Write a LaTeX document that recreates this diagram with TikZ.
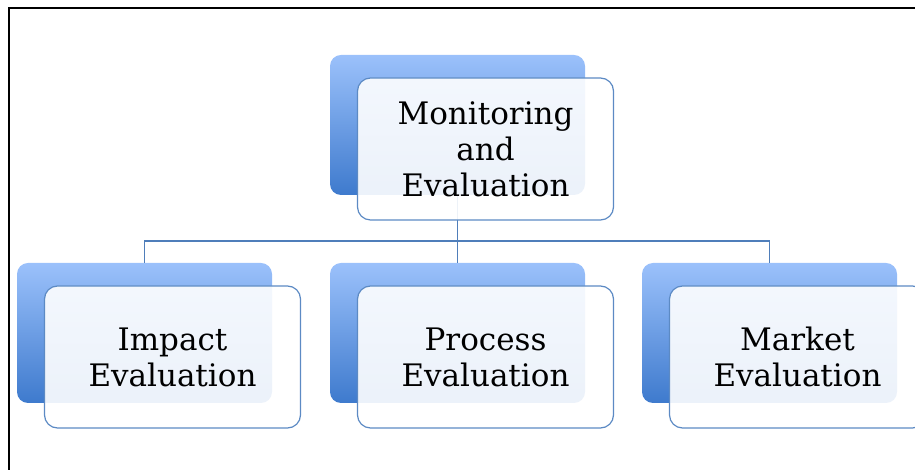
\documentclass[tikz,border=0pt]{standalone}
\usepackage{fontspec}
\setmainfont{DejaVu Serif}
\usetikzlibrary{positioning}
\definecolor{boxtop}{RGB}{155,193,251}
\definecolor{boxbottom}{RGB}{62,122,205}
\definecolor{edgeblue}{RGB}{92,138,196}
\definecolor{linkblue}{RGB}{79,126,186}

\begin{document}
\begin{tikzpicture}[x=1pt, y=1pt,
    back/.style={rectangle, rounded corners=11pt, top color=boxtop, bottom color=boxbottom, minimum width=255pt, minimum height=140pt, outer sep=0pt, inner sep=0pt},
    front/.style={rectangle, rounded corners=13pt, draw=edgeblue, line width=1.2pt, fill=white, fill opacity=0.9, text opacity=1, minimum width=256pt, minimum height=142pt, align=center, font=\fontsize{31}{36}\selectfont, xshift=28pt, yshift=-24pt},
    link/.style={draw=linkblue, line width=1.1pt}]
    \useasboundingbox (0,0) rectangle (915,470);

    % Frame round the chart
    \draw[line width=2.4pt] (9,0) -- (9,462) -- (915,462);

    % Blue boxes behind
    \node[back] (mon-back) at (457.5,345) {};
    \node[back, below left=68pt and 58pt of mon-back] (impact-back) {};
    \node[back, below=68pt of mon-back] (process-back) {};
    \node[back, below right=68pt and 57pt of mon-back] (market-back) {};

    % Connectors
    \draw[link] (mon-back.south) -- (process-back.north);
    \draw[link] (impact-back.north) -- ++(0,22) -| (market-back.north);

    % Light boxes in front
    \node[front] (mon) at (mon-back) {Monitoring\\and\\Evaluation};
    \node[front] (impact) at (impact-back) {Impact\\Evaluation};
    \node[front] (process) at (process-back) {Process\\Evaluation};
    \node[front] (market) at (market-back) {Market\\Evaluation};

\end{tikzpicture}
\end{document}
